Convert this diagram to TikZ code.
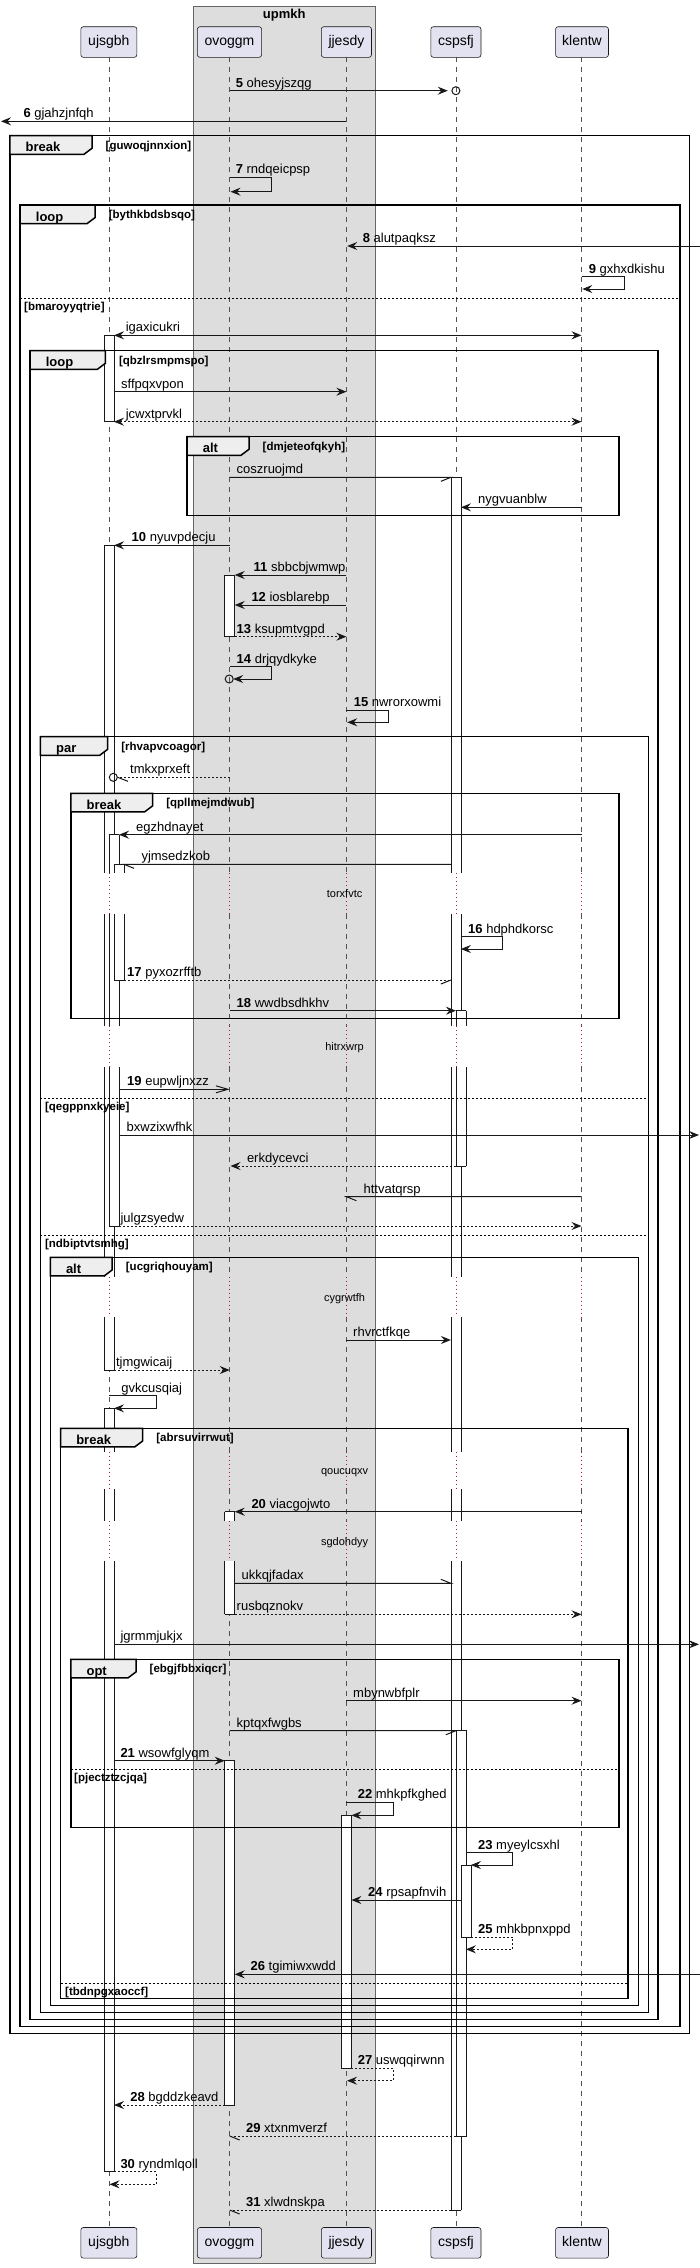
\documentclass[tikz,border=0pt]{standalone}
\usepackage{fontspec}
\setmainfont{Liberation Sans}
\usetikzlibrary{arrows.meta}
\definecolor{ln}{RGB}{24,24,24}
\definecolor{pbox}{RGB}{226,226,240}
\definecolor{grp}{RGB}{221,221,221}
\definecolor{tabc}{RGB}{238,238,238}
\definecolor{dly}{RGB}{170,30,60}
\newcommand\msgfont{\fontsize{13}{15}\selectfont}
\newcommand\grdfont{\fontsize{11.5}{13}\selectfont\bfseries}
\newcommand\actbar[4]{\fill[white] (#1,#3) rectangle (#2,#4); \draw[ln,line width=0.8pt] (#1,#3) -- (#1,#4) (#2,#3) -- (#2,#4);}
\newcommand\actcap[3]{\draw[ln,line width=0.8pt] (#1,#3) -- (#2,#3);}
\newcommand\actbox[4]{\filldraw[fill=white,draw=ln,line width=0.8pt] (#1,#3) rectangle (#2,#4);}
\newcommand\sqframe[8]{%
 \draw[frm] (#2,#3) rectangle (#4,#5);
 \filldraw[frm,fill=tabc] (#2,#3) -- (#6,#3) -- (#6,#3+12.6) -- (#6-8,#3+18.6) -- (#2,#3+18.6) -- cycle;
 \node[kw] (#1k) at (#2+15.5,#3+16) {#7};
 \node[grd] (#1g) at (#6+13.5,#3+13.5) {#8};
}
\begin{document}
\begin{tikzpicture}[x=1pt,y=-1pt,
  msg/.style={draw=ln,line width=1pt},
  dmsg/.style={msg,dash pattern=on 2pt off 2pt},
  hd/.style={-{Stealth[length=10pt,width=8pt,inset=3.5pt]}},
  dhd/.style={{Stealth[length=10pt,width=8pt,inset=3.5pt]}-{Stealth[length=10pt,width=8pt,inset=3.5pt]}},
  ohd/.style={-{Straight Barb[length=12pt,width=7pt]}},
  lbl/.style={anchor=base west,inner sep=0pt,font=\msgfont},
  grd/.style={anchor=base west,inner sep=0pt,font=\grdfont},
  kw/.style={anchor=base west,inner sep=0pt,font=\fontsize{13}{15}\selectfont\bfseries},
  dtx/.style={anchor=base,inner sep=0pt,font=\fontsize{11}{13}\selectfont},
  part/.style={draw=ln,line width=0.6pt,fill=pbox,rounded corners=2.5pt,inner sep=0pt,font=\fontsize{14}{16}\selectfont,text height=10pt,text depth=3pt,minimum height=30.6pt},
  life/.style={draw=ln!75,line width=0.6pt,dash pattern=on 5pt off 5pt},
  dlife/.style={draw=dly,line width=0.8pt,dash pattern=on 1pt off 3pt},
  frm/.style={draw=black,line width=1.5pt},
  elsesep/.style={draw=black,line width=1pt,dash pattern=on 2pt off 2pt},
]
\useasboundingbox (0,0) rectangle (700,2268);
% group box
\draw[fill=grp,draw=gray!80!black,line width=0.6pt] (193.4,6) rectangle (375.1,2263.3);
\node[anchor=base,inner sep=0pt,font=\fontsize{13}{15}\selectfont\bfseries] (gtitle) at (284.3,18) {upmkh};
% lifelines
\foreach \x in {109,229.7,346.4,455.9,581.5} {
  \foreach \a/\b in {57.3/873.3,914/1026,1067.3/1276.7,1317.3/1451.7,1489.3/1521,1561/2227.3}
    {\draw[life] (\x,\a) -- (\x,\b);}
  \foreach \a/\b in {873.3/914,1026/1067.3,1276.7/1317.3,1451.7/1489.3,1521/1561}
    {\draw[dlife] (\x,\a) -- (\x,\b);}
}
% participants
\node[part,minimum width=56.1pt] (pA) at (108.85,42) {ujsgbh};
\node[part,minimum width=64.2pt] (pB) at (229.5,42) {ovoggm};
\node[part,minimum width=50.2pt] (pC) at (346.4,42) {jjesdy};
\node[part,minimum width=50.2pt] (pD) at (455.9,42) {cspsfj};
\node[part,minimum width=52.9pt] (pE) at (582,42) {klentw};
\node[part,minimum width=56.1pt] (qA) at (108.85,2242.8) {ujsgbh};
\node[part,minimum width=64.2pt] (qB) at (229.5,2242.8) {ovoggm};
\node[part,minimum width=50.2pt] (qC) at (346.4,2242.8) {jjesdy};
\node[part,minimum width=50.2pt] (qD) at (455.9,2242.8) {cspsfj};
\node[part,minimum width=52.9pt] (qE) at (582,2242.8) {klentw};
% activations ujsgbh
\actbox{104}{114}{335.3}{421.7}
\actbar{104}{114}{545.3}{873.3}\actcap{104}{114}{545.3}
\actbar{104}{114}{914}{1026}
\actbar{104}{114}{1067.3}{1276.7}
\actbar{104}{114}{1317.3}{1370}\actcap{104}{114}{1370}
\actbar{109}{119}{834.7}{873.3}\actcap{109}{119}{834.7}
\actbar{109}{119}{914}{1026}
\actbar{109}{119}{1067.3}{1226}\actcap{109}{119}{1226}
\actbar{114}{124}{864.3}{873.3}\actcap{114}{124}{864.3}
\actbar{114}{124}{914}{980}\actcap{114}{124}{980}
\actbar{104}{114}{1408.3}{1451.7}\actcap{104}{114}{1408.3}
\actbar{104}{114}{1489.3}{1521}
\actbar{104}{114}{1561}{2171.7}\actcap{104}{114}{2171.7}
% ovoggm
\actbox{224.7}{234.7}{575}{636.7}
\actbar{224.7}{234.7}{1511.7}{1521}\actcap{224.7}{234.7}{1511.7}
\actbar{224.7}{234.7}{1561}{1614.3}\actcap{224.7}{234.7}{1614.3}
\actbox{224.7}{234.7}{1760.7}{2105}
% jjesdy
\actbox{341.4}{351.4}{1815.3}{2068.3}
% cspsfj
\actbar{450.9}{460.9}{477.3}{873.3}\actcap{450.9}{460.9}{477.3}
\actbar{450.9}{460.9}{914}{1026}
\actbar{450.9}{460.9}{1067.3}{1276.7}
\actbar{450.9}{460.9}{1317.3}{1451.7}
\actbar{450.9}{460.9}{1489.3}{1521}
\actbar{450.9}{460.9}{1561}{2210}\actcap{450.9}{460.9}{2210}
\actbar{455.9}{465.9}{1010.7}{1026}\actcap{455.9}{465.9}{1010.7}
\actbar{455.9}{465.9}{1067.3}{1166}\actcap{455.9}{465.9}{1166}
\actbox{455.9}{465.9}{1730.7}{2136}
\actbox{460.9}{470.9}{1865}{1937.3}
% frames
\sqframe{F1}{9.9}{135.7}{689.7}{2033.3}{92}{break}{[guwoqjnnxion]}
\sqframe{F2}{20.2}{205}{679.8}{2026.7}{95.1}{loop}{[bythkbdsbsqo]}
\sqframe{F3}{30.1}{350.7}{658.2}{2019.3}{105.4}{loop}{[qbzlrsmpmspo]}
\sqframe{F4}{187.1}{436.7}{619.2}{515.3}{249}{alt}{[dmjeteofqkyh]}
\sqframe{F5}{40.4}{736.7}{648.4}{2012.7}{107.7}{par}{[rhvapvcoagor]}
\sqframe{F6}{70.9}{793.3}{619.2}{1018.3}{152.6}{break}{[qpllmejmdwub]}
\sqframe{F7}{50.3}{1257.3}{638.5}{2005.3}{112.2}{alt}{[ucgriqhouyam]}
\sqframe{F8}{60.6}{1428.3}{628.2}{1998.3}{142.7}{break}{[abrsuvirrwut]}
\sqframe{F9}{70.9}{1659.3}{619.2}{1827.7}{136}{opt}{[ebgjfbbxiqcr]}
% else separators
\draw[elsesep] (20.2,298.3) -- (679.8,298.3);
\node[grd] (e1) at (24,310.3) {[bmaroyyqtrie]};
\draw[elsesep] (40.4,1098.3) -- (648.4,1098.3);
\node[grd] (e2) at (44.9,1110.3) {[qegppnxkyeie]};
\draw[elsesep] (40.4,1235.7) -- (648.4,1235.7);
\node[grd] (e3) at (44.9,1247.7) {[ndbiptvtsmhg]};
\draw[elsesep] (70.9,1769.3) -- (619.2,1769.3);
\node[grd] (e4) at (74,1781.3) {[pjectztzcjqa]};
\draw[elsesep] (60.6,1983.3) -- (628.2,1983.3);
\node[grd] (e5) at (65,1995) {[tbdnpgxaoccf]};
% delays
\node[dtx] (d1) at (344.6,897.6) {torxfvtc};
\node[dtx] (d2) at (344.6,1050.6) {hitrxwrp};
\node[dtx] (d3) at (344.6,1301) {cygrwtfh};
\node[dtx] (d4) at (344.6,1474.5) {qoucuqxv};
\node[dtx] (d5) at (344.6,1545) {sgdohdyy};
% messages
\draw[msg,hd] (229.7,90.7) -- (447.8,90.7);
\draw[ln,line width=1pt] (455.9,90.7) circle[radius=4];
\node[lbl] (l5) at (235.6,87.2) {\textbf{5} ohesyjszqg};
\draw[msg,hd] (346.4,121.3) -- (1,121.3);
\node[lbl] (l6) at (23.3,117.8) {\textbf{6} gjahzjnfqh};
\draw[msg,hd] (229.7,177.3) -- (271.9,177.3) -- (271.9,191.7) -- (230.5,191.7);
\node[lbl] (l7) at (235.6,173.8) {\textbf{7} rndqeicpsp};
\draw[msg,hd] (700,246) -- (347.2,246);
\node[lbl] (l8) at (362.6,242.5) {\textbf{8} alutpaqksz};
\draw[msg,hd] (581.5,276.7) -- (624.6,276.7) -- (624.6,289) -- (582.3,289);
\node[lbl] (l9) at (588.7,273.2) {\textbf{9} gxhxdkishu};
\draw[msg,dhd] (114,335.3) -- (581.5,335.3);
\node[lbl] (m1) at (125.6,331.8) {igaxicukri};
\draw[msg,hd] (114,391.7) -- (346.4,391.7);
\node[lbl] (m2) at (121,388.2) {sffpqxvpon};
\draw[dmsg,dhd] (114,421.7) -- (581.5,421.7);
\node[lbl] (m3) at (125.6,418.2) {jcwxtprvkl};
\draw[msg] (229.7,477.3) -- (450.9,477.3) -- (440.9,481.3);
\node[lbl] (m4) at (236.5,473.8) {coszruojmd};
\draw[msg,hd] (581.5,507.3) -- (460.9,507.3);
\node[lbl] (m5) at (477.9,503.8) {nygvuanblw};
\draw[msg,hd] (229.7,545.3) -- (114,545.3);
\node[lbl] (l10) at (131.5,541.8) {\textbf{10} nyuvpdecju};
\draw[msg,hd] (346.4,575) -- (234.7,575);
\node[lbl] (l11) at (253.5,571.5) {\textbf{11} sbbcbjwmwp};
\draw[msg,hd] (346.4,605) -- (234.7,605);
\node[lbl] (l12) at (251.3,601.5) {\textbf{12} iosblarebp};
\draw[dmsg,hd] (234.7,636.7) -- (346.4,636.7);
\node[lbl] (l13) at (236.5,633.2) {\textbf{13} ksupmtvgpd};
\draw[msg,hd] (229.7,666.7) -- (271.9,666.7) -- (271.9,679) -- (233.2,679);
\draw[ln,line width=1pt] (229.2,679) circle[radius=4];
\node[lbl] (l14) at (236.5,663.2) {\textbf{14} drjqydkyke};
\draw[msg,hd] (346.4,710) -- (388.6,710) -- (388.6,722.3) -- (347.2,722.3);
\node[lbl] (l15) at (353.6,706.5) {\textbf{15} nwrorxowmi};
\draw[dmsg] (229.7,777.3) -- (117.6,777.3);
\draw[msg] (117.6,777.3) -- (128,781.3);
\draw[ln,line width=1pt] (113.3,777.3) circle[radius=4];
\node[lbl] (m6) at (130,773.8) {tmkxprxeft};
\draw[msg,hd] (581.5,834.7) -- (119,834.7);
\node[lbl] (m7) at (136,831.2) {egzhdnayet};
\draw[msg] (450.9,864.3) -- (124,864.3) -- (134,868.3);
\node[lbl] (m8) at (141.3,860.8) {yjmsedzkob};
\draw[msg,hd] (460.9,936.7) -- (502.6,936.7) -- (502.6,949) -- (460.9,949);
\node[lbl] (l16) at (468,933.2) {\textbf{16} hdphdkorsc};
\draw[dmsg] (124,980) -- (450.9,980);
\draw[msg] (450.9,980) -- (440.9,984);
\node[lbl] (l17) at (127,976.5) {\textbf{17} pyxozrfftb};
\draw[msg,hd] (229.7,1010.7) -- (455.9,1010.7);
\node[lbl] (l18) at (236.5,1007.2) {\textbf{18} wwdbsdhkhv};
\draw[msg,ohd] (119,1089.3) -- (229.7,1089.3);
\node[lbl] (l19) at (127,1085.8) {\textbf{19} eupwljnxzz};
\draw[msg,hd] (119,1135) -- (699,1135);
\node[lbl] (m9) at (126.5,1131.5) {bxwzixwfhk};
\draw[dmsg,hd] (455.9,1166) -- (230.5,1166);
\node[lbl] (m10) at (246.8,1162.5) {erkdycevci};
\draw[msg] (581.5,1196.7) -- (346.4,1196.7) -- (356.4,1200.7);
\node[lbl] (m11) at (363.4,1193.2) {httvatqrsp};
\draw[dmsg,hd] (119,1226) -- (581.5,1226);
\node[lbl] (m12) at (120.3,1222.5) {julgzsyedw};
\draw[msg,hd] (346.4,1340) -- (450.9,1340);
\node[lbl] (m13) at (353,1336.5) {rhvrctfkqe};
\draw[dmsg,hd] (114,1370) -- (229.7,1370);
\node[lbl] (m14) at (115.8,1366.5) {tjmgwicaij};
\draw[msg,hd] (109,1395.7) -- (156.1,1395.7) -- (156.1,1408.3) -- (114,1408.3);
\node[lbl] (m15) at (121.2,1392.2) {gvkcusqiaj};
\draw[msg,hd] (581.5,1511.7) -- (234.7,1511.7);
\node[lbl] (l20) at (251.3,1508.2) {\textbf{20} viacgojwto};
\draw[msg] (234.7,1583.3) -- (450.9,1583.3) -- (440.9,1579.3);
\node[lbl] (m16) at (241.4,1579.8) {ukkqjfadax};
\draw[dmsg,hd] (234.7,1614.3) -- (581.5,1614.3);
\node[lbl] (m17) at (236.5,1610.8) {rusbqznokv};
\draw[msg,hd] (114,1644.3) -- (699,1644.3);
\node[lbl] (m18) at (120.3,1640.8) {jgrmmjukjx};
\draw[msg,hd] (346.4,1700.7) -- (581.5,1700.7);
\node[lbl] (m19) at (353,1697.2) {mbynwbfplr};
\draw[msg] (229.7,1730.7) -- (455.9,1730.7) -- (445.9,1734.7);
\node[lbl] (m20) at (236.5,1727.2) {kptqxfwgbs};
\draw[msg,hd] (114,1760.7) -- (224.7,1760.7);
\node[lbl] (l21) at (120.3,1757.2) {\textbf{21} wsowfglyqm};
\draw[msg,hd] (346.4,1802.3) -- (393.5,1802.3) -- (393.5,1815.3) -- (351.4,1815.3);
\node[lbl] (l22) at (357.6,1798.8) {\textbf{22} mhkpfkghed};
\draw[msg,hd] (465.9,1852.7) -- (512.9,1852.7) -- (512.9,1865) -- (470.9,1865);
\node[lbl] (l23) at (477.9,1849.2) {\textbf{23} myeylcsxhl};
\draw[msg,hd] (460.9,1900) -- (351.4,1900);
\node[lbl] (l24) at (368,1896.5) {\textbf{24} rpsapfnvih};
\draw[dmsg,hd] (470.9,1937.3) -- (512.9,1937.3) -- (512.9,1949.3) -- (465.9,1949.3);
\node[lbl] (l25) at (477.9,1933.8) {\textbf{25} mhkbpnxppd};
\draw[msg,hd] (700,1974.3) -- (234.7,1974.3);
\node[lbl] (l26) at (250.4,1970.8) {\textbf{26} tgimiwxwdd};
\draw[dmsg,hd] (351.4,2068.3) -- (393.5,2068.3) -- (393.5,2080.7) -- (347,2080.7);
\node[lbl] (l27) at (357.6,2064.8) {\textbf{27} uswqqirwnn};
\draw[dmsg,hd] (224.7,2105) -- (114,2105);
\node[lbl] (l28) at (130.1,2101.5) {\textbf{28} bgddzkeavd};
\draw[dmsg] (455.9,2136) -- (229.7,2136);
\draw[msg] (229.7,2136) -- (239.7,2140);
\node[lbl] (l29) at (245.9,2132.5) {\textbf{29} xtxnmverzf};
\draw[dmsg,hd] (114,2171.7) -- (156.1,2171.7) -- (156.1,2184.3) -- (109.5,2184.3);
\node[lbl] (l30) at (120.3,2168.2) {\textbf{30} ryndmlqoll};
\draw[dmsg] (450.9,2210) -- (229.7,2210);
\draw[msg] (229.7,2210) -- (239.7,2214);
\node[lbl] (l31) at (245.9,2206.5) {\textbf{31} xlwdnskpa};
\end{tikzpicture}
\end{document}
